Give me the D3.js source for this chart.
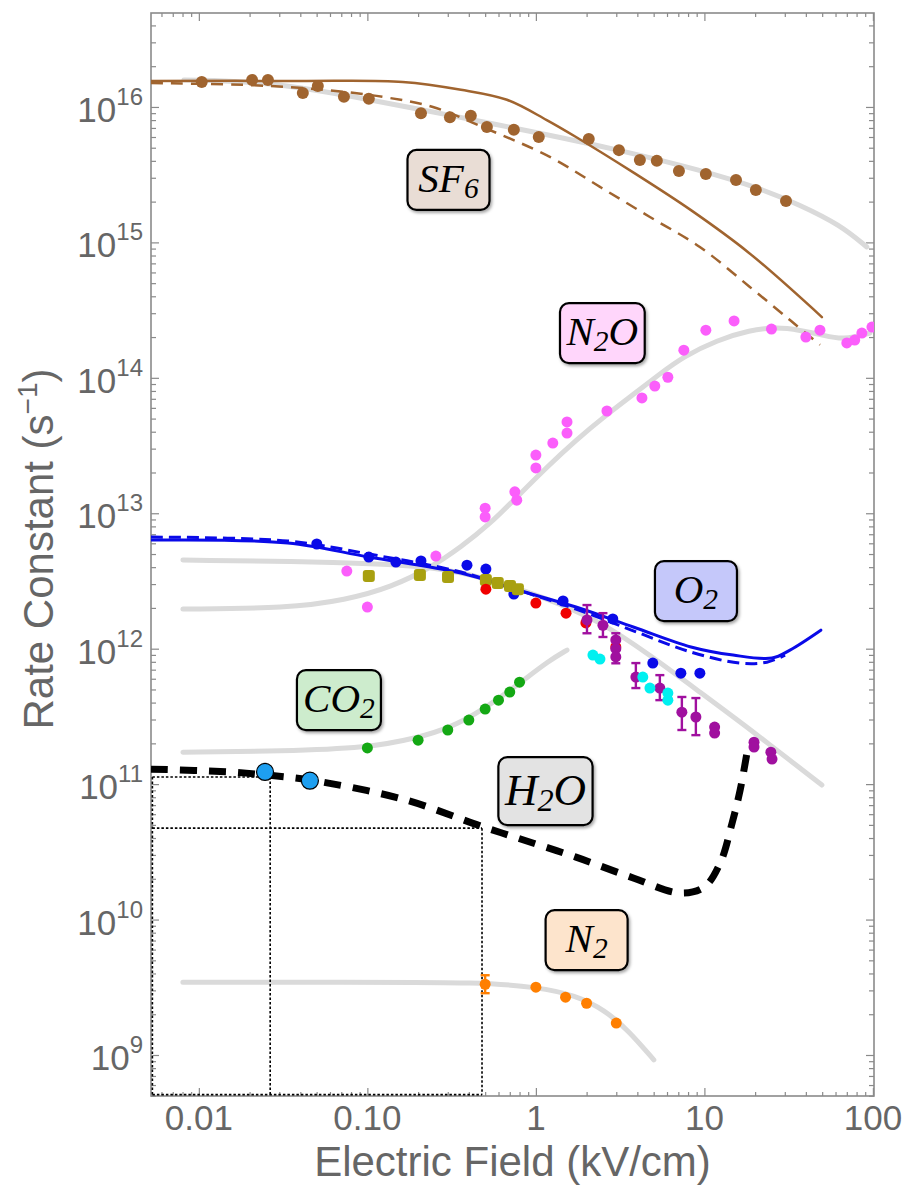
<!DOCTYPE html>
<html>
<head>
<meta charset="utf-8">
<script src="https://cdn.jsdelivr.net/npm/d3@7"></script>
<style>
  body { margin: 0; background: #fff; }
  .tick line { stroke: #8a8a8a; stroke-width: 1.2; }
</style>
</head>
<body>
<svg id="chart" width="903" height="1187"></svg>
<script>
// ---------------------------------------------------------------------------
// Data: [E (kV/cm), rate constant (s^-1)]
// ---------------------------------------------------------------------------
const sf6Points = [[0.0104,1.53e16],[0.0207,1.58e16],[0.0257,1.58e16],[0.0414,1.27e16],[0.0508,1.43e16],
  [0.0726,1.19e16],[0.102,1.15e16],[0.208,9.0e15],[0.309,8.4e15],[0.411,8.6e15],[0.512,7.1e15],
  [0.74,6.8e15],[1.04,6.0e15],[2.06,5.8e15],[3.11,4.8e15],[4.14,4.06e15],[5.22,4.0e15],[7.06,3.37e15],
  [10.2,3.2e15],[15.4,2.89e15],[20.2,2.44e15],[30.5,2.02e15]];
const sf6Fit = [[0.00815,1.58e16],[0.0264,1.54e16],[0.1035,1.13e16],[0.309,8.7e15],[1.06,6.4e15],
  [3.15,4.8e15],[9.4,3.43e15],[21.3,2.52e15],[36.9,1.89e15],[63.7,1.35e15],[92,9.25e14]];
const sf6Solid = [[0.0052,1.556e16],[0.0398,1.556e16],[0.162,1.53e16],[0.359,1.34e16],[0.673,1.13e16],
  [1.16,8.0e15],[1.73,6.0e15],[3.82,3.26e15],[8.32,1.73e15],[18.4,8.36e14],[49.8,2.81e14]];
const sf6Dashed = [[0.0052,1.50e16],[0.0201,1.45e16],[0.0544,1.34e16],[0.124,1.185e16],[0.245,1.0e16],
  [0.484,7.1e15],[1.21,4.28e15],[2.40,2.57e15],[4.75,1.54e15],[9.4,9.25e14],[18.6,4.69e14],
  [32.2,2.67e14],[48.5,1.75e14]];

const n2oPoints = [[0.0755,3.74e12],[0.1,2.03e12],[0.255,4.83e12],[0.5,1.09e13],[0.5,9.4e12],[0.75,1.44e13],
  [0.77,1.25e13],[1.0,2.69e13],[1.0,2.16e13],[1.26,3.3e13],[1.53,4.72e13],[1.53,3.91e13],[2.64,5.69e13],
  [4.26,7.1e13],[5.08,8.69e13],[6.07,1.01e14],[7.55,1.6e14],[10.2,2.25e14],[15,2.63e14],[25,2.29e14],
  [40,2.0e14],[48.5,2.25e14],[70,1.81e14],[78,1.9e14],[86,2.14e14],[98.7,2.37e14]];
const n2oFit = [[0.00804,1.96e12],[0.0337,1.99e12],[0.0745,2.29e12],[0.1396,2.85e12],[0.2415,4.01e12],
  [0.359,5.63e12],[0.533,8.32e12],[0.782,1.34e13],[1.16,2.19e13],[1.73,3.47e13],[2.57,5.22e13],
  [3.82,7.59e13],[5.44,1.07e14],[7.47,1.43e14],[11.9,1.9e14],[18.6,2.25e14],[26.9,2.37e14],
  [36.9,2.25e14],[50.5,2.07e14],[66.4,1.9e14],[96,2.14e14]];

const o2Solid = [[0.0052,6.34e12],[0.0337,6.03e12],[0.102,4.75e12],[0.359,3.62e12],[0.782,2.71e12],
  [1.73,2.03e12],[3.82,1.44e12],[8.32,1.03e12],[14.8,8.97e11],[25.2,8.53e11],[32.2,9.77e11],[49.1,1.37e12]];
const o2Dashed = [[0.0052,6.67e12],[0.0337,6.24e12],[0.102,5.0e12],[0.359,3.68e12],[0.782,2.71e12],
  [1.73,1.96e12],[3.82,1.35e12],[8.32,9.44e11],[16.3,7.82e11],[23.5,7.95e11],[30.1,8.97e11]];
const o2Points = [[0.0501,5.93e12],[0.102,4.75e12],[0.1476,4.36e12],[0.208,4.44e12],[0.39,4.14e12],
  [0.505,3.87e12],[0.74,2.53e12],[1.45,2.25e12],[2.86,1.66e12],[4.94,7.83e11],[7.25,6.6e11],[9.4,6.6e11]];
const o2Fit = [[0.00804,4.51e12],[0.0745,4.36e12],[0.2415,4.07e12],[0.533,3.27e12],[1.16,2.36e12],
  [2.4,1.6e12],[4.75,8.97e11],[9.4,4.78e11],[18.6,2.55e11],[49.8,9.84e10]];
const oliveSquares = [[0.102,3.44e12],[0.205,3.5e12],[0.301,3.38e12],[0.505,3.21e12],[0.594,3.05e12],
  [0.702,2.9e12],[0.782,2.75e12]];
const redPoints = [[0.505,2.75e12],[1.0,2.17e12],[1.51,1.83e12],[1.98,1.55e12],[2.98,1.03e12]];
// [E, k, kLow, kHigh]
const purplePoints = [[2.01,1.63e12,1.3e12,2.1e12],[2.5,1.49e12,1.22e12,1.83e12],[2.98,1.16e12],
  [2.98,1.0e12,7.8e11,1.3e12],[2.98,8.7e11],[3.92,6.17e11,5.12e11,7.83e11],[5.44,5.12e11,4.17e11,6.38e11],
  [7.35,3.4e11,2.51e11,4.4e11],[8.9,3.13e11,2.3e11,4.32e11],[11.5,2.64e11],[11.5,2.38e11],
  [19.7,2.04e11],[19.7,1.88e11],[24.8,1.72e11],[25.2,1.53e11]];
const cyanPoints = [[2.18,8.97e11],[2.4,8.38e11],[4.31,6.17e11],[4.75,5.12e11],[6.07,4.7e11],[6.07,4.17e11]];

const co2Points = [[0.1,1.85e11],[0.2,2.11e11],[0.3,2.51e11],[0.4,2.97e11],[0.5,3.58e11],[0.6,4.17e11],
  [0.7,4.78e11],[0.8,5.66e11]];
const co2Fit = [[0.00804,1.72e11],[0.0315,1.75e11],[0.1,1.85e11],[0.197,2.19e11],[0.309,2.6e11],
  [0.484,3.52e11],[0.776,5.39e11],[1.21,8.24e11],[1.53,9.77e11]];

const h2oLine = [[0.0052,1.29e11],[0.0153,1.23e11],[0.0247,1.17e11],[0.0463,1.07e11],[0.162,7.75e10],
  [0.472,4.9e10],[0.782,3.99e10],[1.73,2.89e10],[3.82,2.02e10],[7.16,1.57e10],[9.94,1.73e10],
  [12.4,2.61e10],[14.6,5.16e10],[16.3,9.04e10],[18.1,1.85e11]];
const h2oPoints = [[0.0247,1.23e11],[0.0456,1.06e11]];
// dotted guide boxes: corner E and k values
const guideE = [0.0265, 0.479];
const guideK = [1.13e11, 4.73e10];
const guideLeftE = 0.0053;
const guideFloorK = 5.1e8;

const n2Points = [[0.5,3.33e9,2.86e9,3.88e9],[1.0,3.17e9],[1.5,2.67e9],[2.0,2.41e9],[3.0,1.72e9]];
const n2Fit = [[0.00804,3.45e9],[0.0745,3.45e9],[0.49,3.45e9],[1.0,3.17e9],[1.73,2.77e9],[2.57,2.14e9],
  [3.54,1.52e9],[5.01,9.2e8]];

// labels: text pieces ([text, isSubscript]), anchor in data space
const labelParts = [[["SF",0],["6",1]], [["N",0],["2",1],["O",0]], [["O",0],["2",1]],
  [["CO",0],["2",1]], [["H",0],["2",1],["O",0]], [["N",0],["2",1]]];
const labelFills = ["#e9ddd5", "#ffd6fb", "#c5c8fa", "#cdeccd", "#e3e3e3", "#fde4cc"];
const labelE = [0.303, 2.48, 8.91, 0.0678, 1.14, 2.0];
const labelK = [2.89e15, 2.14e14, 2.66e12, 4.17e11, 8.87e10, 7.05e9];

const xTickValues = [0.01, 0.1, 1, 10, 100];
const xTickLabels = ["0.01", "0.10", "1", "10", "100"];
const yTickExponents = [9, 10, 11, 12, 13, 14, 15, 16];

// ---------------------------------------------------------------------------
const svg = d3.select("#chart");
const sans = "'Liberation Sans', Arial, Helvetica, sans-serif";
const serif = "'Liberation Serif', 'Times New Roman', serif";
const plot = {left: 151, right: 874, top: 13, bottom: 1096};

const x = d3.scaleLog().domain([0.0052, 101.5]).range([plot.left, plot.right]);
const y = d3.scaleLog().domain([4.98e8, 4.94e16]).range([plot.bottom, plot.top]);

// log minor/major tick values inside a domain
function logTicks(domain, major) {
    let out = [];
    let e0 = Math.floor(Math.log10(domain[0])), e1 = Math.ceil(Math.log10(domain[1]));
    for (let e = e0; e <= e1; e++) {
        for (let m = 1; m < 10; m++) {
            if ((m === 1) !== major) continue;
            let v = +(m + "e" + e);
            if (v >= domain[0] && v <= domain[1]) out.push(v);
        }
    }
    return out;
}

const defs = svg.append("defs");
defs.append("clipPath").attr("id", "clip").append("rect")
    .attr("x", plot.left).attr("y", plot.top)
    .attr("width", plot.right - plot.left).attr("height", plot.bottom - plot.top);
const shadow = defs.append("filter").attr("id", "shadow")
    .attr("x", "-20%").attr("y", "-20%").attr("width", "150%").attr("height", "150%");
shadow.append("feDropShadow").attr("dx", 1.5).attr("dy", 2).attr("stdDeviation", 1.5)
    .attr("flood-color", "#000").attr("flood-opacity", 0.35);

// frame + ticks
function drawAxis(axisFn, scale, values, size, transform) {
    let g = svg.append("g").attr("transform", transform)
        .call(axisFn(scale).tickValues(values).tickSize(-size).tickFormat(""));
    g.select(".domain").remove();
    return g;
}
const xMinor = logTicks(x.domain(), false), xMajor = logTicks(x.domain(), true);
const yMinor = logTicks(y.domain(), false), yMajor = logTicks(y.domain(), true);
drawAxis(d3.axisBottom, x, xMinor, 4, `translate(0,${plot.bottom})`);
drawAxis(d3.axisBottom, x, xMajor, 8, `translate(0,${plot.bottom})`);
drawAxis(d3.axisTop, x, xMinor, 4, `translate(0,${plot.top})`);
drawAxis(d3.axisTop, x, xMajor, 8, `translate(0,${plot.top})`);
drawAxis(d3.axisLeft, y, yMinor, 5, `translate(${plot.left},0)`);
drawAxis(d3.axisLeft, y, yMajor, 8, `translate(${plot.left},0)`);
drawAxis(d3.axisRight, y, yMinor, 5, `translate(${plot.right},0)`);
drawAxis(d3.axisRight, y, yMajor, 8, `translate(${plot.right},0)`);

svg.append("rect")
    .attr("x", plot.left).attr("y", plot.top)
    .attr("width", plot.right - plot.left).attr("height", plot.bottom - plot.top)
    .attr("fill", "none").attr("stroke", "#8a8a8a").attr("stroke-width", 1.6);

// tick labels
svg.append("g").selectAll("text").data(xTickValues).enter().append("text")
    .style("font-family", sans)
    .attr("x", d => x(d)).attr("y", plot.bottom + 34)
    .attr("text-anchor", "middle").attr("font-size", 35).attr("fill", "#666")
    .text((d, i) => xTickLabels[i]);

const yLab = svg.append("g").selectAll("text").data(yTickExponents).enter().append("text")
    .style("font-family", sans)
    .attr("x", 143).attr("y", d => y(Math.pow(10, d)) + 15)
    .attr("text-anchor", "end").attr("fill", "#666");
yLab.append("tspan").attr("font-size", 35).text("10");
yLab.append("tspan").attr("font-size", 24).attr("dy", -17).text(d => d);

// axis titles
svg.append("text").style("font-family", sans)
    .attr("x", (plot.left + plot.right) / 2).attr("y", 1176)
    .attr("text-anchor", "middle").attr("font-size", 42).attr("fill", "#666")
    .text("Electric Field (kV/cm)");
const yTitle = svg.append("text").style("font-family", sans)
    .attr("transform", "translate(53,549) rotate(-90)")
    .attr("text-anchor", "middle").attr("font-size", 42).attr("fill", "#666");
yTitle.append("tspan").text("Rate Constant (s");
yTitle.append("tspan").attr("font-size", 28).attr("dy", -16).text("\u22121");
yTitle.append("tspan").attr("dy", 16).text(")");

// ---------------------------------------------------------------------------
// marks
const layer = svg.append("g").attr("clip-path", "url(#clip)");
const line = d3.line().x(d => x(d[0])).y(d => y(d[1])).curve(d3.curveCatmullRom.alpha(0.5));
const smooth = d3.line().x(d => x(d[0])).y(d => y(d[1])).curve(d3.curveBasis);

function path(data, color, width, dash, gen) {
    layer.append("path").datum(data)
        .attr("d", gen || line).attr("fill", "none")
        .attr("stroke", color).attr("stroke-width", width)
        .attr("stroke-linecap", dash ? "butt" : "round")
        .attr("stroke-dasharray", dash || null);
}
function dots(data, color, r) {
    layer.append("g").selectAll("circle").data(data).enter().append("circle")
        .attr("cx", d => x(d[0])).attr("cy", d => y(d[1])).attr("r", r).attr("fill", color);
}
function errorBars(data, color) {
    let g = layer.append("g").attr("stroke", color).attr("stroke-width", 2.4);
    data.filter(d => d.length > 2).forEach(d => {
        let cx = x(d[0]);
        g.append("line").attr("x1", cx).attr("x2", cx).attr("y1", y(d[2])).attr("y2", y(d[3]));
        g.append("line").attr("x1", cx - 4.5).attr("x2", cx + 4.5).attr("y1", y(d[2])).attr("y2", y(d[2]));
        g.append("line").attr("x1", cx - 4.5).attr("x2", cx + 4.5).attr("y1", y(d[3])).attr("y2", y(d[3]));
    });
}

const fitGray = "#dadada";
[sf6Fit, n2oFit, o2Fit, co2Fit, n2Fit].forEach(f => path(f, fitGray, 5, null, smooth));

// dotted guides
const guides = layer.append("g").attr("stroke", "#000").attr("stroke-width", 1.6)
    .attr("stroke-dasharray", "2.5,2").attr("fill", "none");
guideE.forEach((e, i) => {
    guides.append("line").attr("x1", x(guideLeftE)).attr("x2", x(e)).attr("y1", y(guideK[i])).attr("y2", y(guideK[i]));
    guides.append("line").attr("x1", x(e)).attr("x2", x(e)).attr("y1", y(guideK[i])).attr("y2", y(guideFloorK));
});
guides.append("line").attr("x1", x(guideLeftE)).attr("x2", x(guideLeftE))
    .attr("y1", y(guideK[0])).attr("y2", y(guideFloorK));
guides.append("line").attr("x1", x(guideLeftE)).attr("x2", x(guideE[1]))
    .attr("y1", y(guideFloorK)).attr("y2", y(guideFloorK));

const brown = "#a0642f";
path(sf6Solid, brown, 2.5);
path(sf6Dashed, brown, 2.5, "12,8");
const blue = "#0a0ae8";
path(o2Solid, blue, 3);
path(o2Dashed, blue, 3, "12,6");

path(h2oLine, "#000", 7, "17,12");

dots(sf6Points, brown, 6);
dots(n2oPoints, "#fb5efb", 5.5);
dots(o2Points, blue, 5.5);
layer.append("g").selectAll("rect").data(oliveSquares).enter().append("rect")
    .attr("x", d => x(d[0]) - 6).attr("y", d => y(d[1]) - 6)
    .attr("width", 12).attr("height", 12).attr("rx", 3).attr("fill", "#a8a010");
dots(redPoints, "#f00000", 5.5);
errorBars(purplePoints, "#a0109f");
dots(purplePoints, "#a0109f", 5.5);
dots(cyanPoints, "#00f0f0", 5.5);
dots(co2Points, "#14a814", 5.5);
errorBars(n2Points, "#ff7f00");
dots(n2Points, "#ff7f00", 5.5);

layer.append("g").selectAll("circle").data(h2oPoints).enter().append("circle")
    .attr("cx", d => x(d[0])).attr("cy", d => y(d[1])).attr("r", 8.5)
    .attr("fill", "#1e9ff0").attr("stroke", "#000").attr("stroke-width", 1.2);

// ---------------------------------------------------------------------------
// labels
labelParts.forEach((parts, i) => {
    let big = parts.length === 3 && parts[0][0] === "H";
    let fs = big ? 45 : 41;
    let g = svg.append("g").attr("transform", `translate(${x(labelE[i])},${y(labelK[i])})`);
    let box = g.append("rect");
    let t = g.append("text").attr("text-anchor", "middle")
        .style("font-family", serif).style("font-style", "italic")
        .attr("font-size", fs).attr("fill", "#000")
        .attr("y", fs * 0.3);
    let wasSub = false;
    parts.forEach(p => {
        let ts = t.append("tspan").text(p[0]);
        if (p[1]) { ts.attr("font-size", fs * 0.72).attr("dy", fs * 0.14); wasSub = true; }
        else if (wasSub) { ts.attr("dy", -fs * 0.14); wasSub = false; }
    });
    let bb = t.node().getBBox();
    let w = Math.max(82, bb.width + 12), h = big ? 68 : 60;
    box.attr("x", -w / 2).attr("y", -h / 2).attr("width", w).attr("height", h)
        .attr("rx", 9).attr("fill", labelFills[i])
        .attr("stroke", "#000").attr("stroke-width", 2.2).attr("filter", "url(#shadow)");
});
</script>
</body>
</html>
